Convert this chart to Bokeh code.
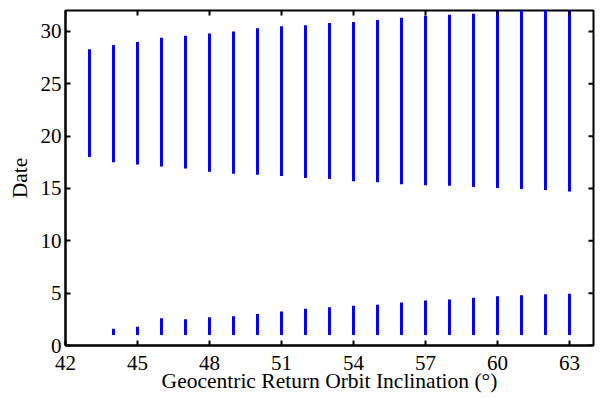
import math
from bokeh.plotting import figure
from bokeh.models import Range1d, FixedTicker
from bokeh.embed import file_html
from bokeh.resources import INLINE

# Upper band of launch dates per inclination
upper_x = [43, 44, 45, 46, 47, 48, 49, 50, 51, 52, 53, 54, 55, 56, 57, 58, 59, 60, 61, 62, 63]
upper_lo = [18.0, 17.5, 17.3, 17.1, 16.9, 16.6, 16.4, 16.3, 16.2, 16.0, 15.9, 15.7, 15.6, 15.4,
            15.3, 15.25, 15.15, 15.05, 14.95, 14.85, 14.7]
upper_hi = [28.3, 28.7, 29.0, 29.4, 29.6, 29.8, 30.0, 30.3, 30.5, 30.6, 30.8, 30.9, 31.1, 31.3,
            31.5, 31.6, 31.7, 32.0, 32.2, 32.4, 32.6]

# Lower band
lower_x = [44, 45, 46, 47, 48, 49, 50, 51, 52, 53, 54, 55, 56, 57, 58, 59, 60, 61, 62, 63]
lower_lo = [1.0] * 20
lower_hi = [1.6, 1.8, 2.6, 2.5, 2.7, 2.8, 3.0, 3.25, 3.5, 3.65, 3.8, 3.9, 4.1, 4.3, 4.4, 4.55,
            4.7, 4.8, 4.9, 4.95]

x_ticks = [42, 45, 48, 51, 54, 57, 60, 63]
y_ticks = [0, 5, 10, 15, 20, 25, 30]
X_MIN, X_MAX = 42, 64
Y_MIN, Y_MAX = 0, 32

FONT = "Liberation Serif"
TICK_FS = "21px"
LABEL_FS = "21.5px"

p = figure(width=600, height=398, x_range=Range1d(X_MIN, X_MAX), y_range=Range1d(Y_MIN, Y_MAX),
           output_backend="svg", toolbar_location=None,
           min_border_left=65, min_border_right=7, min_border_top=10, min_border_bottom=53)
p.xgrid.visible = False
p.ygrid.visible = False
p.outline_line_color = "black"
p.outline_line_width = 2
p.background_fill_color = "white"
p.border_fill_color = "white"

blue = "#0000FF"
p.segment(x0=upper_x, y0=upper_lo, x1=upper_x, y1=upper_hi, line_color=blue, line_width=3,
          line_cap="butt")
p.segment(x0=lower_x, y0=lower_lo, x1=lower_x, y1=lower_hi, line_color=blue, line_width=3,
          line_cap="butt")

# inward tick marks on the top and right edges of the box (half of each dash is clipped)
p.scatter(x=x_ticks, y=[Y_MAX] * len(x_ticks), marker="dash", size=10, angle=math.pi / 2,
          line_color="black", line_width=2)
p.scatter(x=[X_MAX] * len(y_ticks), y=y_ticks, marker="dash", size=10,
          line_color="black", line_width=2)

def style(ax, ticks):
    ax.ticker = FixedTicker(ticks=ticks)
    ax.axis_line_width = 2
    ax.axis_line_color = "black"
    ax.major_tick_line_width = 2
    ax.major_tick_line_color = "black"
    ax.major_tick_in = 5
    ax.major_tick_out = 0
    ax.minor_tick_line_color = None
    ax.major_label_text_font = FONT
    ax.major_label_text_font_size = TICK_FS
    ax.major_label_text_color = "black"
    ax.axis_label_text_font = FONT
    ax.axis_label_text_font_size = LABEL_FS
    ax.axis_label_text_font_style = "normal"
    ax.axis_label_text_color = "black"

xa = p.xaxis[0]
style(xa, x_ticks)
xa.axis_label = "Geocentric Return Orbit Inclination (°)"
xa.major_label_standoff = 10
xa.axis_label_standoff = -4

ya = p.yaxis[0]
style(ya, y_ticks)
ya.axis_label = "Date"
ya.major_label_standoff = 4
ya.axis_label_standoff = 6

open("out.html", "w").write(file_html(p, INLINE))
